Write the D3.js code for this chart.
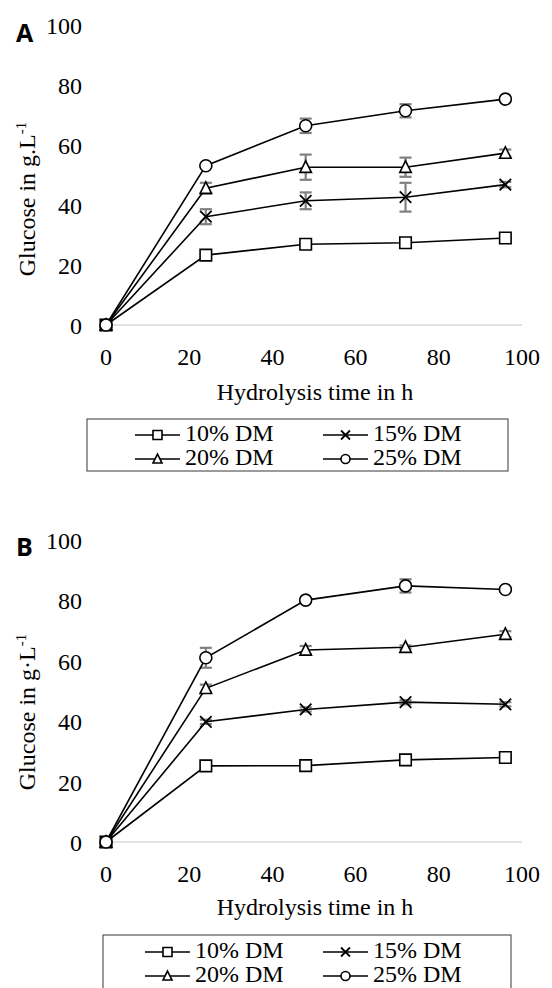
<!DOCTYPE html>
<html>
<head>
<meta charset="utf-8">
<script src="https://cdn.jsdelivr.net/npm/d3@7/dist/d3.min.js"></script>
<style>
  body { margin: 0; background: #fff; }
  svg { display: block; }
  text { font-family: "Liberation Serif", Tinos, "Times New Roman", "DejaVu Serif", serif; }
  text.letter { font-family: "Open Sans", "DejaVu Sans", sans-serif; font-weight: bold; }
</style>
</head>
<body>
<div id="chart"></div>
<script>
// data
const hours = [0, 24, 48, 72, 96];
const seriesNames = ["10% DM", "15% DM", "20% DM", "25% DM"];
const markerTypes = ["square", "cross", "triangle", "circle"];
const xTicks = [0, 20, 40, 60, 80, 100];
const yTicks = [0, 20, 40, 60, 80, 100];

// panel A
const a10 = [0, 23.3, 26.9, 27.4, 29.0];
const a15 = [0, 36.1, 41.4, 42.6, 46.8];
const a20 = [0, 45.6, 52.6, 52.6, 57.3];
const a25 = [0, 53.1, 66.4, 71.4, 75.3];
const a10Err = [0, 0.4, 0.4, 0.4, 0.4];
const a15Err = [0, 2.5, 2.8, 4.8, 0.9];
const a20Err = [0, 1.8, 4.2, 3.2, 1.2];
const a25Err = [0, 0.5, 2.4, 2.2, 0.5];

// panel B
const b10 = [0, 25.2, 25.3, 27.2, 28.0];
const b15 = [0, 39.8, 43.9, 46.3, 45.6];
const b20 = [0, 50.9, 63.6, 64.5, 68.8];
const b25 = [0, 61.0, 80.1, 84.8, 83.6];
const b10Err = [0, 0.4, 0.4, 0.4, 0.4];
const b15Err = [0, 0.7, 0.7, 0.7, 0.7];
const b20Err = [0, 1.2, 1.3, 0.6, 1.0];
const b25Err = [0, 3.3, 0.6, 2.2, 0.8];

const W = 552, H = 988;
const svg = d3.select("#chart").append("svg")
  .attr("width", W).attr("height", H)
  .attr("viewBox", `0 0 ${W} ${H}`);

function markerPath(type, s) {
  const h = s / 2;
  if (type === "square") return `M${-h},${-h}h${s}v${s}h${-s}Z`;
  if (type === "triangle") return `M0,${-h * 1.1}L${h},${h * 0.9}L${-h},${h * 0.9}Z`;
  if (type === "cross") return `M${-h},${-h}L${h},${h}M${-h},${h}L${h},${-h}`;
  // circle
  return `M${h},0A${h},${h} 0 1,1 ${-h},0A${h},${h} 0 1,1 ${h},0Z`;
}

function drawMarker(g, type, x, y, s) {
  g.append("path")
    .attr("d", markerPath(type, s))
    .attr("transform", `translate(${x},${y})`)
    .attr("fill", type === "cross" ? "none" : "#fff")
    .attr("stroke", "#000")
    .attr("stroke-width", type === "cross" ? 1.8 : 1.6);
}

function drawPanel(p) {
  const g = svg.append("g");
  const x = d3.scaleLinear().domain([0, 100]).range([106, 522]);
  const y = d3.scaleLinear().domain([0, 100]).range([p.bottom, p.top]);

  // zero gridline
  g.append("line")
    .attr("x1", x(0)).attr("x2", x(100))
    .attr("y1", y(0)).attr("y2", y(0))
    .attr("stroke", "#d9d9d9").attr("stroke-width", 1.3);

  // y tick labels
  g.selectAll(".ytick").data(yTicks).join("text")
    .attr("x", 82).attr("y", d => y(d) + 9)
    .attr("text-anchor", "end")
    .attr("font-size", 24)
    .text(d => d);

  // x tick labels
  g.selectAll(".xtick").data(xTicks).join("text")
    .attr("x", d => x(d)).attr("y", p.xLabelY)
    .attr("text-anchor", "middle")
    .attr("font-size", 24)
    .text(d => d);

  // axis titles
  g.append("text")
    .attr("x", 315).attr("y", p.xTitleY)
    .attr("text-anchor", "middle")
    .attr("font-size", 24)
    .text("Hydrolysis time in h");

  const yt = g.append("text")
    .attr("transform", `translate(35,${p.yTitleY}) rotate(-90)`)
    .attr("text-anchor", "middle")
    .attr("font-size", 24);
  yt.append("tspan").text("Glucose in " + p.unit);
  yt.append("tspan").attr("font-size", 15).attr("dy", -9).text("-1");

  // panel letter
  g.append("text").attr("class", "letter")
    .attr("x", 16).attr("y", p.letterY)
    .attr("font-size", 25)
    .text(p.letter);

  const line = d3.line().x((d, i) => x(hours[i])).y(d => y(d));

  // error bars first, then lines, then markers
  p.series.forEach((vals, k) => {
    const err = p.errors[k];
    vals.forEach((v, i) => {
      if (err[i] <= 0) return;
      const cx = x(hours[i]);
      const eb = g.append("g").attr("stroke", "#808080").attr("stroke-width", 2.2);
      eb.append("line").attr("x1", cx).attr("x2", cx).attr("y1", y(v - err[i])).attr("y2", y(v + err[i]));
      eb.append("line").attr("x1", cx - 6).attr("x2", cx + 6).attr("y1", y(v - err[i])).attr("y2", y(v - err[i]));
      eb.append("line").attr("x1", cx - 6).attr("x2", cx + 6).attr("y1", y(v + err[i])).attr("y2", y(v + err[i]));
    });
  });

  p.series.forEach((vals, k) => {
    g.append("path").attr("d", line(vals))
      .attr("fill", "none").attr("stroke", "#000").attr("stroke-width", 1.6);
    vals.forEach((v, i) => drawMarker(g, markerTypes[k], x(hours[i]), y(v), markerTypes[k] === "circle" ? 12 : 11.5));
  });

  // legend
  const L = p.legend;
  g.append("rect")
    .attr("x", L.x).attr("y", L.y).attr("width", L.w).attr("height", L.h)
    .attr("fill", "#fff").attr("stroke", "#595959").attr("stroke-width", 1.2);
  seriesNames.forEach((name, k) => {
    const col = k % 2, row = Math.floor(k / 2);
    const [lx1, lx2] = col === 0 ? L.col1 : L.col2;
    const ly = L.rows[row];
    g.append("line").attr("x1", lx1).attr("x2", lx2).attr("y1", ly).attr("y2", ly)
      .attr("stroke", "#000").attr("stroke-width", 1.6);
    drawMarker(g, markerTypes[k], (lx1 + lx2) / 2, ly, 9);
    g.append("text")
      .attr("x", lx2 + 5).attr("y", ly + 6)
      .attr("font-size", 24)
      .text(name);
  });
}

drawPanel({
  letter: "A", unit: "g.L", top: 25, bottom: 325,
  letterY: 42, xLabelY: 365, xTitleY: 400, yTitleY: 199,
  series: [a10, a15, a20, a25],
  errors: [a10Err, a15Err, a20Err, a25Err],
  legend: { x: 87, y: 419, w: 421, h: 52, col1: [135, 180], col2: [323, 368], rows: [435, 459] }
});

drawPanel({
  letter: "B", unit: "g\u00B7L", top: 540, bottom: 842,
  letterY: 556, xLabelY: 882, xTitleY: 915, yTitleY: 712,
  series: [b10, b15, b20, b25],
  errors: [b10Err, b15Err, b20Err, b25Err],
  legend: { x: 103, y: 935, w: 408, h: 60, col1: [145, 190], col2: [323, 368], rows: [952, 976] }
});
</script>
</body>
</html>
